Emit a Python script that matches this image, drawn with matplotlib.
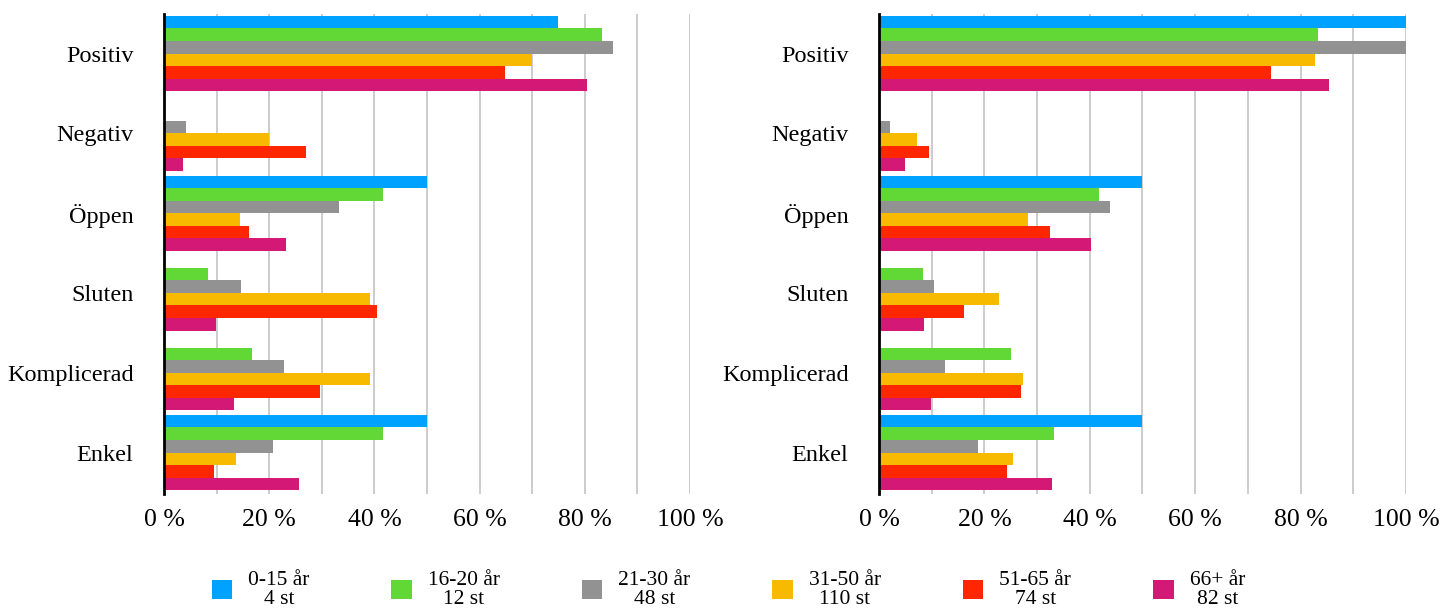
import matplotlib

matplotlib.use("Agg")
import matplotlib.pyplot as plt
import numpy as np
from matplotlib.patches import Patch

plt.rcParams["font.family"] = ["Liberation Serif", "DejaVu Serif"]

categories = ["Positiv", "Negativ", "Öppen", "Sluten", "Komplicerad", "Enkel"]
series_labels = ["0-15 år\n4 st", "16-20 år\n12 st", "21-30 år\n48 st",
                 "31-50 år\n110 st", "51-65 år\n74 st", "66+ år\n82 st"]
colors = ["#00A2FF", "#61D836", "#929292", "#F8BA00", "#FF2600", "#D31876"]

# percentages per series, in category order
left_values = [
    [75.0, 0.0, 50.0, 0.0, 0.0, 50.0],
    [83.3, 0.0, 41.7, 8.3, 16.7, 41.7],
    [85.4, 4.2, 33.3, 14.6, 22.9, 20.8],
    [70.0, 20.0, 14.5, 39.1, 39.1, 13.6],
    [64.9, 27.0, 16.2, 40.5, 29.7, 9.5],
    [80.5, 3.7, 23.2, 9.8, 13.4, 25.6],
]
right_values = [
    [100.0, 0.0, 50.0, 0.0, 0.0, 50.0],
    [83.3, 0.0, 41.7, 8.3, 25.0, 33.3],
    [100.0, 2.1, 43.8, 10.4, 12.5, 18.8],
    [82.7, 7.3, 28.2, 22.7, 27.3, 25.5],
    [74.3, 9.5, 32.4, 16.2, 27.0, 24.3],
    [85.4, 4.9, 40.2, 8.5, 9.8, 32.9],
]
x_ticks = [0, 20, 40, 60, 80, 100]


def draw_panel(ax, values):
    y = np.arange(len(categories))
    bar_h = 0.157
    for i, (vals, color) in enumerate(zip(values, colors)):
        ax.barh(y + (i - 2.5) * bar_h, vals, height=bar_h, color=color, zorder=3)
    ax.set_xlim(0, 100)
    ax.set_ylim(5.52, -0.495)
    ax.set_yticks(y)
    ax.set_yticklabels(categories, fontsize=17.5)
    ax.set_xticks(x_ticks)
    ax.set_xticklabels([f"{t} %" for t in x_ticks], fontsize=18.5)
    ax.set_xticks(np.arange(10, 101, 10), minor=True)
    ax.grid(axis="x", which="both", color="#c4c4c4", linewidth=1.2, zorder=0)
    ax.tick_params(axis="both", which="both", length=0)
    ax.tick_params(axis="x", pad=11)
    ax.tick_params(axis="y", pad=22)
    for side in ["top", "right", "bottom"]:
        ax.spines[side].set_visible(False)
    ax.spines["left"].set_linewidth(2)
    ax.spines["left"].set_color("black")
    ax.spines["left"].set_zorder(4)


fig = plt.figure(figsize=(14.45, 6.09), dpi=100)
ax_left = fig.add_axes([0.1135, 0.1888, 0.364, 0.7882])
ax_right = fig.add_axes([0.6083, 0.1888, 0.3647, 0.7882])
draw_panel(ax_left, left_values)
draw_panel(ax_right, right_values)

handles = [Patch(facecolor=c) for c in colors]
leg = fig.legend(handles, series_labels, loc="center", bbox_to_anchor=(0.504, 0.031),
                 ncol=6, frameon=False, fontsize=15.5, handlelength=0.95, handleheight=0.95,
                 handletextpad=0.75, columnspacing=3.8, borderpad=0)
for text in leg.get_texts():
    text.set_multialignment("center")
    text.set_linespacing(1.05)

fig.savefig("out.png", dpi=100)
